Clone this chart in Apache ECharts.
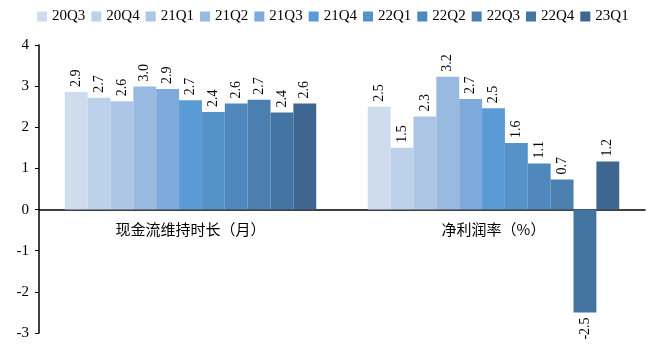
<!DOCTYPE html>
<html>
<head>
<meta charset="utf-8">
<script src="https://cdn.jsdelivr.net/npm/echarts@6/dist/echarts.min.js"></script>
<style>
  html, body { margin: 0; padding: 0; background: #fff; }
  #chart { width: 650px; height: 354px; }
</style>
</head>
<body>
<div id="chart"></div>
<script>
const categories = ["现金流维持时长（月）", "净利润率（%）"];
const quarters = ["20Q3", "20Q4", "21Q1", "21Q2", "21Q3", "21Q4", "22Q1", "22Q2", "22Q3", "22Q4", "23Q1"];
// one value per quarter for each category
const cashRunway = [2.86, 2.72, 2.63, 2.99, 2.93, 2.66, 2.37, 2.58, 2.67, 2.36, 2.58];
const netMargin = [2.50, 1.50, 2.26, 3.23, 2.69, 2.46, 1.62, 1.12, 0.73, -2.50, 1.17];
const colors = ["#cfdcee", "#bdd1ea", "#adc6e6", "#98b9e0", "#7eaadb", "#5b9bd5",
                "#5592c9", "#4f88bd", "#4a7fb0", "#4474a2", "#3d6690"];

const serif = "'Liberation Serif', 'Times New Roman', serif";

const chart = echarts.init(document.getElementById("chart"));

const series = quarters.map((q, i) => ({
  name: q,
  type: "bar",
  barGap: "0%",
  barCategoryGap: "17%",
  itemStyle: { color: colors[i] },
  data: [cashRunway[i], netMargin[i]].map((v) => ({
    value: v,
    label: v < 0
      ? { position: "bottom", align: "right" }
      : { position: "top", align: "left" },
  })),
  label: {
    show: true,
    rotate: 90,
    verticalAlign: "middle",
    distance: 5,
    fontFamily: serif,
    fontSize: 14,
    color: "#000",
    formatter: (p) => p.value.toFixed(1),
  },
}));

// grid is 288px tall for 7 units, zero sits 3 units above the bottom edge
const zeroOffset = -288 * 3 / 7;

chart.setOption({
  animation: false,
  color: colors,
  legend: {
    top: 4,
    left: 32,
    itemWidth: 10,
    itemHeight: 10,
    itemGap: 6,
    icon: "rect",
    textStyle: { fontFamily: serif, fontSize: 15, color: "#000" },
    data: quarters,
  },
  grid: { left: 39, right: 5, top: 45, bottom: 21 },
  xAxis: {
    type: "category",
    data: categories,
    position: "bottom",
    offset: zeroOffset,
    axisLine: { onZero: false, lineStyle: { color: "#000", width: 1.5 } },
    axisTick: { show: false },
    axisLabel: {
      margin: 12,
      fontSize: 15,
      color: "#000",
      fontFamily: "'Noto Sans CJK SC', sans-serif",
    },
  },
  yAxis: {
    type: "value",
    min: -3,
    max: 4,
    interval: 1,
    splitLine: { show: false },
    axisLine: { show: true, lineStyle: { color: "#000", width: 1.5 } },
    axisTick: { show: true, length: 4, lineStyle: { color: "#000" } },
    axisLabel: { fontFamily: serif, fontSize: 15, color: "#000", margin: 10 },
  },
  series: series,
});
</script>
</body>
</html>
